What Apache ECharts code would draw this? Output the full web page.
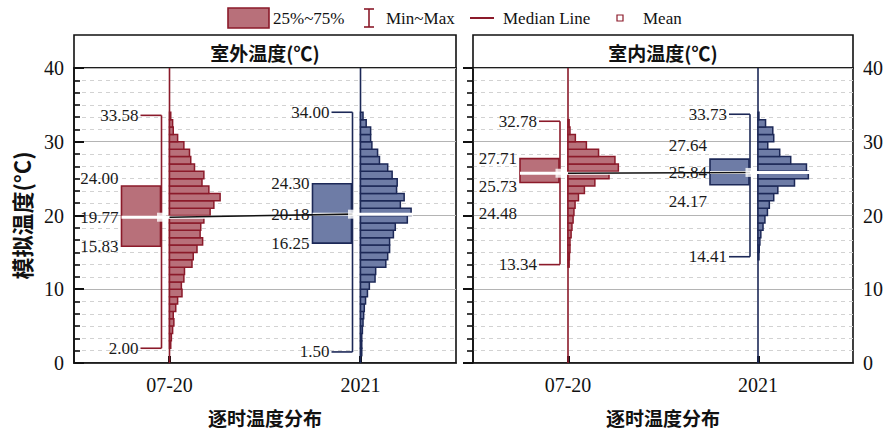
<!DOCTYPE html>
<html>
<head>
<meta charset="utf-8">
<script src="https://cdn.jsdelivr.net/npm/echarts@6/dist/echarts.min.js"></script>
<style>
html,body{margin:0;padding:0;background:#fff;}
#grafico{width:889px;height:432px;}
</style>
</head>
<body>
<div id="grafico"></div>
<script>
// ---- datos ----
var categorias = ['07-20', '2021'];
var paneles = ['室外温度(℃)', '室内温度(℃)'];

// estadisticos: exterior / interior, un valor por categoria
var minExt = [2.00, 1.50];
var q1Ext = [15.83, 16.25];
var medExt = [19.77, 20.18];
var q3Ext = [24.00, 24.30];
var maxExt = [33.58, 34.00];

var minInt = [13.34, 14.41];
var q1Int = [24.48, 24.17];
var medInt = [25.73, 25.84];
var q3Int = [27.71, 27.64];
var maxInt = [32.78, 33.73];

// histogramas: limite inferior de cada clase (1 °C) y frecuencia (%)
var binsExt0720 = [2,3,4,5,6,7,8,9,10,11,12,13,14,15,16,17,18,19,20,21,22,23,24,25,26,27,28,29,30,31,32,33];
var freqExt0720 = [0.2,0.3,0.5,0.7,0.6,1.0,1.3,2.0,1.9,2.3,2.4,3.6,3.8,4.4,5.3,4.9,5.0,5.5,6.5,7.1,8.1,6.3,5.2,5.5,4.0,3.4,3.2,2.3,1.3,0.6,0.5,0.2];
var binsExt2021 = [1,2,3,4,5,6,7,8,9,10,11,12,13,14,15,16,17,18,19,20,21,22,23,24,25,26,27,28,29,30,31,32,33];
var freqExt2021 = [0.2,0.2,0.2,0.3,0.4,0.5,0.6,0.8,1.1,1.4,2.3,2.4,4.0,4.3,4.6,4.6,5.2,5.5,7.4,8.0,6.3,6.9,5.7,5.8,5.0,4.3,3.0,2.7,1.8,1.6,1.6,0.9,0.4];
var binsInt0720 = [13,14,15,16,17,18,19,20,21,22,23,24,25,26,27,28,29,30,31,32];
var freqInt0720 = [0.4,0.5,0.7,0.7,1.1,1.4,1.8,2.1,2.5,3.7,5.8,9.5,14.5,17.8,16.6,10.8,6.5,2.6,0.7,0.4];
var binsInt2021 = [14,15,16,17,18,19,20,21,22,23,24,25,26,27,28,29,30,31,32,33];
var freqInt2021 = [0.3,0.4,0.6,0.9,1.6,2.2,3.0,3.6,5.0,6.3,11.6,16.0,15.4,10.4,6.9,3.1,5.0,4.7,2.4,0.3];

// ---- estilo ----
var bordes = ['#8b1a2a', '#1c2857'];
var rellenos = ['#b8707a', '#6e7ca6'];
var posCat = [1, 3];          // centro de cada categoria en el eje oculto 0..4
var anchoHist = 0.53;         // largo de la barra mas alta (unidades del eje oculto)
var serif = '"Liberation Serif", "Times New Roman", serif';
var cjk = '"Noto Sans CJK SC", sans-serif';
// desplazamiento vertical (px) de las etiquetas q3, mediana, q1
var despExt = [[-7, 0, 0], [0, 0, 0]];
var despInt = [[0, 13, 31], [-14, 0, 17]];

var dom = document.getElementById('grafico');
var myChart = echarts.init(dom, null, {renderer: 'svg'});

function serieCajas(g, mins, q1s, meds, q3s, maxs, desp) {
	var datos = [];
	for (var k = 0; k < 2; k++) {
		datos.push([posCat[k], mins[k], q1s[k], meds[k], q3s[k], maxs[k]]);
	}
	return {
		type: 'custom', xAxisIndex: g + 2, yAxisIndex: g, z: 1,
		data: datos,
		renderItem: function (params, api) {
			var k = params.dataIndex;
			var x = api.value(0);
			var base = api.coord([x, 0]);
			var tope = api.coord([x, 40]);
			var cx = base[0];
			var yMin = api.coord([x, api.value(1)])[1];
			var yQ1 = api.coord([x, api.value(2)])[1];
			var yMed = api.coord([x, api.value(3)])[1];
			var yQ3 = api.coord([x, api.value(4)])[1];
			var yMax = api.coord([x, api.value(5)])[1];
			var col = bordes[k];
			var txt = function (v, xx, yy) {
				return {type: 'text', style: {text: v.toFixed(2), x: xx, y: yy, align: 'right', verticalAlign: 'middle',
					font: '17px ' + serif, fill: '#1a1a1a'}};
			};
			return {type: 'group', children: [
				{type: 'line', shape: {x1: cx, y1: base[1], x2: cx, y2: tope[1]}, style: {stroke: col, lineWidth: 1.6}},
				{type: 'rect', shape: {x: cx - 48, y: yQ3, width: 39, height: yQ1 - yQ3}, style: {fill: rellenos[k], stroke: col, lineWidth: 1.6}},
				{type: 'line', shape: {x1: cx - 8, y1: yMax, x2: cx - 8, y2: yMin}, style: {stroke: col, lineWidth: 1.6}},
				{type: 'line', shape: {x1: cx - 29, y1: yMax, x2: cx - 8, y2: yMax}, style: {stroke: col, lineWidth: 1.6}},
				{type: 'line', shape: {x1: cx - 29, y1: yMin, x2: cx - 8, y2: yMin}, style: {stroke: col, lineWidth: 1.6}},
				txt(api.value(5), cx - 31, yMax),
				txt(api.value(1), cx - 31, yMin),
				txt(api.value(4), cx - 51, yQ3 + desp[k][0]),
				txt(api.value(3), cx - 51, yMed + desp[k][1]),
				txt(api.value(2), cx - 51, yQ1 + desp[k][2])
			]};
		}
	};
}

function serieHist(g, k, bins, freq) {
	var maxF = Math.max.apply(null, freq);
	var datos = bins.map(function (b, i) { return [posCat[k], b, freq[i]]; });
	return {
		type: 'custom', xAxisIndex: g + 2, yAxisIndex: g, z: 2,
		data: datos,
		renderItem: function (params, api) {
			var x0 = api.value(0), lo = api.value(1), f = api.value(2);
			var p1 = api.coord([x0, lo + 1]);
			var p2 = api.coord([x0 + f / maxF * anchoHist, lo]);
			return {type: 'rect', shape: {x: p1[0], y: p1[1], width: p2[0] - p1[0], height: p2[1] - p1[1]},
				style: {fill: rellenos[k], stroke: bordes[k], lineWidth: 1.5}};
		}
	};
}

function serieMedianas(g, meds) {
	return {
		type: 'custom', xAxisIndex: g + 2, yAxisIndex: g, z: 3,
		data: [[posCat[0], meds[0]], [posCat[1], meds[1]]],
		renderItem: function (params, api) {
			var p = api.coord([api.value(0), api.value(1)]);
			var fin = api.coord([api.value(0) + anchoHist, api.value(1)]);
			return {type: 'line', shape: {x1: p[0] - 48, y1: p[1], x2: fin[0] + 2, y2: p[1]},
				style: {stroke: '#ffffff', lineWidth: 3}};
		}
	};
}

function serieUnion(g, meds) {
	return {
		type: 'custom', xAxisIndex: g + 2, yAxisIndex: g, z: 4,
		data: [[meds[0], meds[1]]],
		renderItem: function (params, api) {
			var a = api.coord([posCat[0], api.value(0)]);
			var b = api.coord([posCat[1], api.value(1)]);
			return {type: 'line', shape: {x1: a[0], y1: a[1], x2: b[0] - 8, y2: b[1]},
				style: {stroke: '#111', lineWidth: 1.6}};
		}
	};
}

function serieMedias(g, meds) {
	return {
		type: 'scatter', xAxisIndex: g + 2, yAxisIndex: g, z: 5,
		data: [[posCat[0], meds[0]], [posCat[1], meds[1]]],
		symbol: 'rect', symbolSize: 9, symbolOffset: [-8, 0],
		itemStyle: {color: '#ffffff', borderWidth: 0},
		emphasis: {disabled: true}
	};
}

var ejesY = [0, 1].map(function (g) {
	return {
		gridIndex: g, type: 'value', min: 0, max: 40, interval: 10,
		position: g === 0 ? 'left' : 'right',
		name: g === 0 ? '模拟温度(°C)' : '', nameLocation: 'middle', nameGap: 42, nameRotate: 90,
		nameTextStyle: {fontFamily: cjk, fontSize: 22, fontWeight: 'bold', color: '#111'},
		axisLine: {show: true, lineStyle: {color: '#111', width: 1.6}},
		axisTick: {show: true, inside: true, length: 10, lineStyle: {color: '#111', width: 2}},
		minorTick: {show: true, splitNumber: 6, length: 6, lineStyle: {color: '#111', width: 1.6}},
		axisLabel: {fontFamily: serif, fontSize: 20, color: '#111', margin: 10},
		splitLine: {show: true, lineStyle: {color: '#b4b4b4', width: 1}},
		minorSplitLine: {show: true, lineStyle: {color: '#d2d2d2', width: 1, type: [4, 4]}}
	};
});

var ejesX = [0, 1].map(function (g) {
	return {
		gridIndex: g, type: 'category', data: categorias, position: 'bottom',
		name: '逐时温度分布', nameLocation: 'middle', nameGap: 45,
		nameTextStyle: {fontFamily: cjk, fontSize: 19, fontWeight: 'bold', color: '#111'},
		axisLine: {show: true, lineStyle: {color: '#111', width: 1.6}},
		axisTick: {show: true, inside: true, alignWithLabel: true, length: 7, lineStyle: {color: '#111', width: 3}},
		axisLabel: {fontFamily: serif, fontSize: 20, color: '#111', margin: 12},
		splitLine: {show: false}
	};
}).concat([0, 1].map(function (g) {
	return {gridIndex: g, type: 'value', min: 0, max: 4, show: false};
}));

var grids = [
	{left: 74, top: 68, width: 382, height: 304, show: true, borderColor: '#111', borderWidth: 1.6},
	{left: 473, top: 68, width: 380, height: 304, show: true, borderColor: '#111', borderWidth: 1.6}
];

var fuenteLeyenda = '17px ' + serif;
var leyenda = [
	{type: 'rect', shape: {x: 228, y: 8, width: 41, height: 20}, style: {fill: rellenos[0], stroke: bordes[0], lineWidth: 1.6}},
	{type: 'text', style: {text: '25%~75%', x: 273, y: 18, verticalAlign: 'middle', font: fuenteLeyenda, fill: '#111'}},
	{type: 'line', shape: {x1: 369, y1: 9, x2: 369, y2: 27}, style: {stroke: bordes[0], lineWidth: 1.6}},
	{type: 'line', shape: {x1: 364, y1: 9, x2: 374, y2: 9}, style: {stroke: bordes[0], lineWidth: 1.6}},
	{type: 'line', shape: {x1: 364, y1: 27, x2: 374, y2: 27}, style: {stroke: bordes[0], lineWidth: 1.6}},
	{type: 'text', style: {text: 'Min~Max', x: 386, y: 18, verticalAlign: 'middle', font: fuenteLeyenda, fill: '#111'}},
	{type: 'line', shape: {x1: 470, y1: 18, x2: 494, y2: 18}, style: {stroke: bordes[0], lineWidth: 2}},
	{type: 'text', style: {text: 'Median Line', x: 503, y: 18, verticalAlign: 'middle', font: fuenteLeyenda, fill: '#111'}},
	{type: 'rect', shape: {x: 617, y: 15, width: 6, height: 6}, style: {fill: '#fff', stroke: bordes[0], lineWidth: 1.2}},
	{type: 'text', style: {text: 'Mean', x: 643, y: 18, verticalAlign: 'middle', font: fuenteLeyenda, fill: '#111'}}
];

var titulos = [];
[0, 1].forEach(function (g) {
	var gr = grids[g];
	titulos.push({type: 'rect', shape: {x: gr.left, y: 35, width: gr.width, height: 33}, style: {fill: 'none', stroke: '#111', lineWidth: 1.6}});
	titulos.push({type: 'text', style: {text: paneles[g], x: gr.left + gr.width / 2, y: 52, align: 'center', verticalAlign: 'middle',
		font: 'bold 19px ' + cjk, fill: '#111'}});
});

var option = {
	animation: false,
	backgroundColor: '#fff',
	grid: grids,
	xAxis: ejesX,
	yAxis: ejesY,
	graphic: leyenda.concat(titulos),
	series: [
		serieCajas(0, minExt, q1Ext, medExt, q3Ext, maxExt, despExt),
		serieCajas(1, minInt, q1Int, medInt, q3Int, maxInt, despInt),
		serieHist(0, 0, binsExt0720, freqExt0720),
		serieHist(0, 1, binsExt2021, freqExt2021),
		serieHist(1, 0, binsInt0720, freqInt0720),
		serieHist(1, 1, binsInt2021, freqInt2021),
		serieMedianas(0, medExt),
		serieMedianas(1, medInt),
		serieUnion(0, medExt),
		serieUnion(1, medInt),
		serieMedias(0, medExt),
		serieMedias(1, medInt)
	]
};

if (option && typeof option === "object") {
	myChart.setOption(option, true);
}
</script>
</body>
</html>
